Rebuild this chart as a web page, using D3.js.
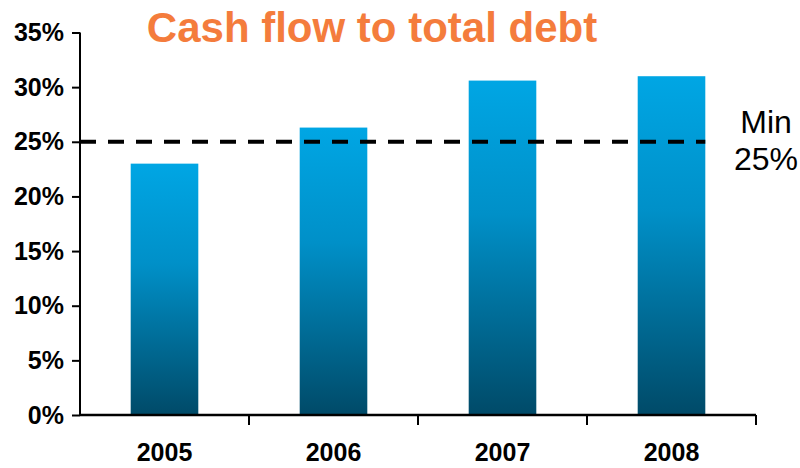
<!DOCTYPE html>
<html>
<head>
<meta charset="utf-8">
<script src="https://cdn.jsdelivr.net/npm/d3@7"></script>
<style>
  html, body { margin: 0; padding: 0; background: #fff; }
  svg { display: block; font-family: "Liberation Sans", Arial, sans-serif; }
</style>
</head>
<body>
<svg id="chart" width="800" height="468"></svg>
<script>
// Cash flow to total debt, by year (%)
const years = ["2005", "2006", "2007", "2008"];
const ratios = [23.0, 26.3, 30.6, 31.0];
const yTicks = [0, 5, 10, 15, 20, 25, 30, 35];
const minTarget = 25;

const svg = d3.select("#chart");
const margin = { left: 80, right: 44, top: 32.5, bottom: 53 };
const W = 800, H = 468;
const FONT = "'Liberation Sans', Arial, sans-serif";

const x = d3.scaleBand()
  .domain(years)
  .range([margin.left, W - margin.right])
  .paddingInner(0.6)
  .paddingOuter(0.3);

const y = d3.scaleLinear()
  .domain([0, 35])
  .range([H - margin.bottom, margin.top]);

// vertical gradient for the bars
const grad = svg.append("defs").append("linearGradient")
  .attr("id", "barGrad")
  .attr("x1", 0).attr("y1", 0).attr("x2", 0).attr("y2", 1);
grad.append("stop").attr("offset", "0%").attr("stop-color", "#00a6e4");
grad.append("stop").attr("offset", "40%").attr("stop-color", "#0090c8");
grad.append("stop").attr("offset", "100%").attr("stop-color", "#004a68");

svg.append("g").selectAll("rect")
  .data(years.map((yr, i) => ({ yr, v: ratios[i] })))
  .join("rect")
  .attr("x", d => x(d.yr))
  .attr("width", x.bandwidth())
  .attr("y", d => y(d.v))
  .attr("height", d => y(0) - y(d.v))
  .attr("fill", "url(#barGrad)");

// y axis
const yAxis = svg.append("g")
  .attr("transform", `translate(${margin.left},0)`)
  .call(d3.axisLeft(y).tickValues(yTicks).tickFormat(d => d + "%").tickSize(8).tickPadding(8));
yAxis.select(".domain").attr("stroke", "#000").attr("stroke-width", 2).attr("d", `M0,${y(35)}V${y(0)}`);
yAxis.selectAll(".tick line").attr("stroke", "#000").attr("stroke-width", 2);
yAxis.selectAll(".tick text")
  .attr("fill", "#000").attr("font-size", 25).attr("font-weight", "bold")
  .attr("font-family", FONT);

// x axis with ticks at the category boundaries
const xAxisG = svg.append("g").attr("transform", `translate(0,${y(0)})`);
const x0 = margin.left, x1 = W - margin.right;
xAxisG.append("line")
  .attr("x1", x0).attr("x2", x1)
  .attr("stroke", "#000").attr("stroke-width", 2.5);
const boundaries = d3.range(years.length + 1).map(i => x0 + (x1 - x0) * i / years.length);
xAxisG.selectAll("line.tk")
  .data(boundaries.slice(1))
  .join("line").attr("class", "tk")
  .attr("x1", d => d).attr("x2", d => d)
  .attr("y1", 0).attr("y2", 10)
  .attr("stroke", "#000").attr("stroke-width", 2);
xAxisG.selectAll("text")
  .data(years)
  .join("text")
  .attr("x", d => x(d) + x.bandwidth() / 2)
  .attr("y", 46)
  .attr("text-anchor", "middle")
  .attr("font-family", FONT)
  .attr("font-size", 25).attr("font-weight", "bold").attr("fill", "#000")
  .text(d => d);

// minimum target line
svg.append("line")
  .attr("x1", margin.left).attr("x2", x("2008") + x.bandwidth())
  .attr("y1", y(minTarget)).attr("y2", y(minTarget))
  .attr("stroke", "#000").attr("stroke-width", 4)
  .attr("stroke-dasharray", "16,12");

const minLabel = svg.append("text")
  .attr("text-anchor", "middle")
  .attr("font-family", FONT)
  .attr("font-size", 32).attr("fill", "#000");
minLabel.append("tspan").attr("x", 766).attr("y", 133).text("Min");
minLabel.append("tspan").attr("x", 766).attr("y", 170).text(minTarget + "%");

// title
svg.append("text")
  .attr("x", 372).attr("y", 42)
  .attr("text-anchor", "middle")
  .attr("font-family", FONT)
  .attr("font-size", 42).attr("font-weight", "bold")
  .attr("fill", "#f47c3c")
  .text("Cash flow to total debt");
</script>
</body>
</html>
